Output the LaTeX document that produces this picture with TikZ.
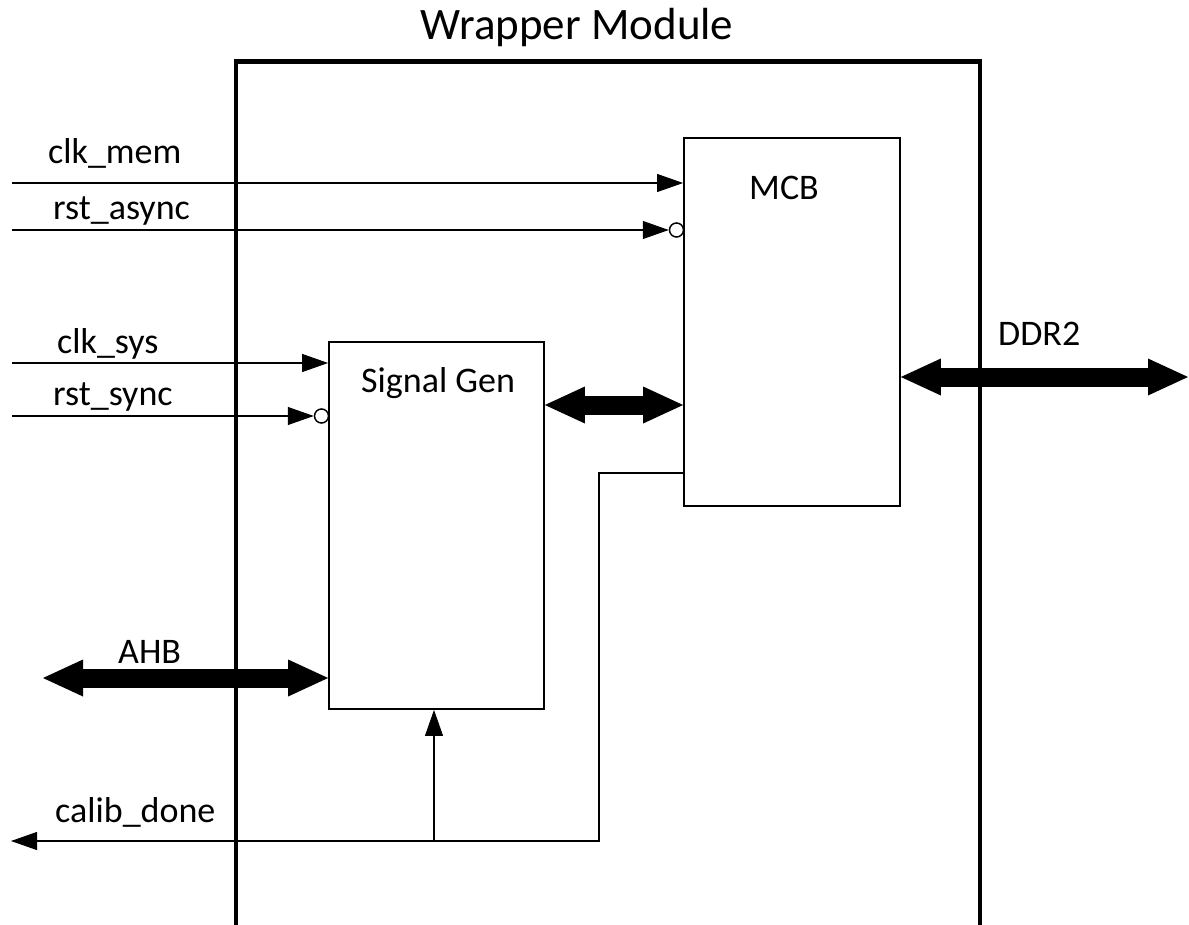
\documentclass[tikz,border=0pt]{standalone}
\usepackage{fontspec}
\setmainfont{Carlito}
\usetikzlibrary{arrows.meta}
\tikzset{
  blk/.style={draw, line width=1.8pt, rectangle, inner sep=0pt},
  sig/.style={line width=1.8pt},
  tip/.style={-{Triangle[length=26pt,width=18pt,line width=1pt]}},
  bus/.style={line width=19pt, {Triangle[length=40pt,width=37pt,line width=0pt]}-{Triangle[length=40pt,width=37pt,line width=0pt]}},
  bubble/.style={draw, circle, fill=white, line width=1.5pt, minimum size=14pt, inner sep=0pt},
  lbl/.style={anchor=base west, inner sep=0pt, font=\fontsize{36}{40}\selectfont},
  wrap/.style={line width=4.5pt}
}
\begin{document}
\begin{tikzpicture}[x=1pt,y=-1pt]
\useasboundingbox (0,0) rectangle (1189,925);
% wrapper
\coordinate (wbl) at (236,935);
\coordinate (wtl) at (236,61.5);
\coordinate (wtr) at (980,61.5);
\coordinate (wbr) at (980,935);
\draw[wrap] (wbl) -- (wtl) -- (wtr) -- (wbr);
\node[anchor=base, inner sep=0pt, font=\fontsize{45}{50}\selectfont] (title) at (577,40) {Wrapper Module};
% blocks
\node[blk, minimum width=216pt, minimum height=368pt] (mcb) at (792,322) {};
\node[blk, minimum width=215pt, minimum height=367pt] (sg) at (436.5,525.5) {};
\node[lbl, anchor=base] (mcbt) at (784,200) {MCB};
\node[lbl] (sgt) at (361,392) {Signal Gen};
% inputs
\coordinate (clkmem) at (12,183);
\coordinate (rstasync) at (12,230);
\coordinate (clksys) at (12,363);
\coordinate (rstsync) at (12,416);
\node[bubble] (b1) at (676.5,230) {};
\node[bubble] (b2) at (321.5,416) {};
\draw[sig,tip] (clkmem) -- (clkmem -| mcb.west);
\draw[sig,tip] (rstasync) -- (b1.west);
\draw[sig,tip] (clksys) -- (clksys -| sg.west);
\draw[sig,tip] (rstsync) -- (b2.west);
\node[lbl] (l1) at (48,164) {clk\_mem};
\node[lbl] (l2) at (53,220) {rst\_async};
\node[lbl] (l3) at (57,353) {clk\_sys};
\node[lbl] (l4) at (53,405) {rst\_sync};
% buses
\coordinate (sgm) at (0,405);
\draw[bus] (sgm -| sg.east) -- (sgm -| mcb.west);
\coordinate (ddr) at (1188,377);
\draw[bus] (ddr -| mcb.east) -- (ddr);
\node[lbl] (l5) at (998,345) {DDR2};
\coordinate (ahb) at (43,678);
\draw[bus] (ahb) -- (ahb -| sg.west);
\node[lbl] (l6) at (118,663) {AHB};
% calib_done
\coordinate (cb) at (599,473);
\coordinate (cc) at (599,841);
\coordinate (br) at (434,841);
\coordinate (calib) at (11,841);
\draw[sig,tip] (cb -| mcb.west) -- (cb) -- (cc) -- (calib);
\draw[sig,tip] (br) -- (br |- sg.south);
\node[lbl] (l7) at (55,822) {calib\_done};
\end{tikzpicture}
\end{document}
